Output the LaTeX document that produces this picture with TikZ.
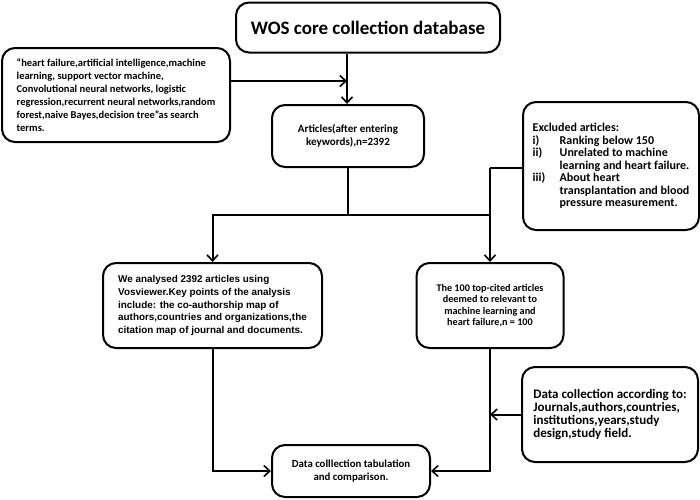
\documentclass[tikz,border=0pt]{standalone}
\usepackage{fontspec}
\setmainfont{Carlito}
\newfontfamily\arialf{Liberation Sans}
\usetikzlibrary{arrows.meta}
\begin{document}
\begin{tikzpicture}[x=1pt,y=-1pt,
  box/.style={draw,line width=2pt,rounded corners=13pt,inner sep=0pt,font=\bfseries},
  conn/.style={line width=2pt},
  arr/.style={conn,-{Straight Barb[length=6pt,width=11pt,line width=1.6pt]}}]
\useasboundingbox (0,0) rectangle (700,499);
\node[box,minimum width=264pt,minimum height=50pt,font=\bfseries\fontsize{19}{22}\selectfont] (wos) at (368,27.5) {WOS core collection database};
\node[box,minimum width=228pt,minimum height=94pt,align=left,font=\bfseries\fontsize{10.5}{13}\selectfont] (terms) at (116,95) {``heart failure,artificial intelligence,machine\\learning, support vector machine,\\Convolutional neural networks, logistic\\regression,recurrent neural networks,random\\forest,naive Bayes,decision tree''as search\\terms.};
\node[box,minimum width=152pt,minimum height=62pt,align=center,font=\bfseries\fontsize{11}{13}\selectfont] (art) at (348,136) {Articles(after entering\\keywords),n=2392};
\node[box,minimum width=176pt,minimum height=128pt,align=left,font=\bfseries\fontsize{12}{12.5}\selectfont] (excl) at (611,166) {Excluded articles:\\
\makebox[27pt][l]{i)}Ranking below 150\\
\makebox[27pt][l]{ii)}Unrelated to machine\\
\makebox[27pt][l]{}learning and heart failure.\\
\makebox[27pt][l]{iii)}About heart\\
\makebox[27pt][l]{}transplantation and blood\\
\makebox[27pt][l]{}pressure measurement.};
\node[box,minimum width=219pt,minimum height=85pt,align=left,font=\arialf\bfseries\fontsize{9.9}{12.7}\selectfont] (vos) at (212.5,305.5) {We analysed 2392 articles using\\Vosviewer.Key points of the analysis\\include: the co-authorship map of\\authors,countries and organizations,the\\citation map of journal and documents.};
\node[box,minimum width=147pt,minimum height=85pt,align=center,font=\bfseries\fontsize{10.2}{11.5}\selectfont] (top) at (490,305.5) {The 100 top-cited articles\\deemed to relevant to\\machine learning and\\heart failure,n = 100};
\node[box,minimum width=158pt,minimum height=52pt,align=center,font=\bfseries\fontsize{10.8}{13}\selectfont] (tab) at (351,471) {Data colllection tabulation\\and comparison.};
\node[box,minimum width=176pt,minimum height=95pt,align=left,font=\bfseries\fontsize{13}{12.8}\selectfont] (dc) at (610,414.5) {Data collection according to:\\Journals,authors,countries,\\institutions,years,study\\design,study field.};
\coordinate (j1) at (347,81);
\coordinate (split) at (348,215);
\draw[arr] (wos.south -| j1) -- (art.north -| j1);
\draw[arr] (terms.east |- j1) -- (j1);
\draw[conn] (art.south) -- (split);
\draw[arr] (split) -| (vos.north);
\draw[conn] (split) -- (split -| top.north);
\draw[conn] ([yshift=-2pt]excl.west) -- ([yshift=-2pt]excl.west -| top.north);
\draw[arr] ([yshift=-2pt]excl.west -| top.north) -- (top.north);
\draw[arr] (vos.south) |- (tab.west);
\draw[arr] (top.south) |- (tab.east);
\draw[arr] (dc.west) -- (dc.west -| top.south);
\end{tikzpicture}
\end{document}
